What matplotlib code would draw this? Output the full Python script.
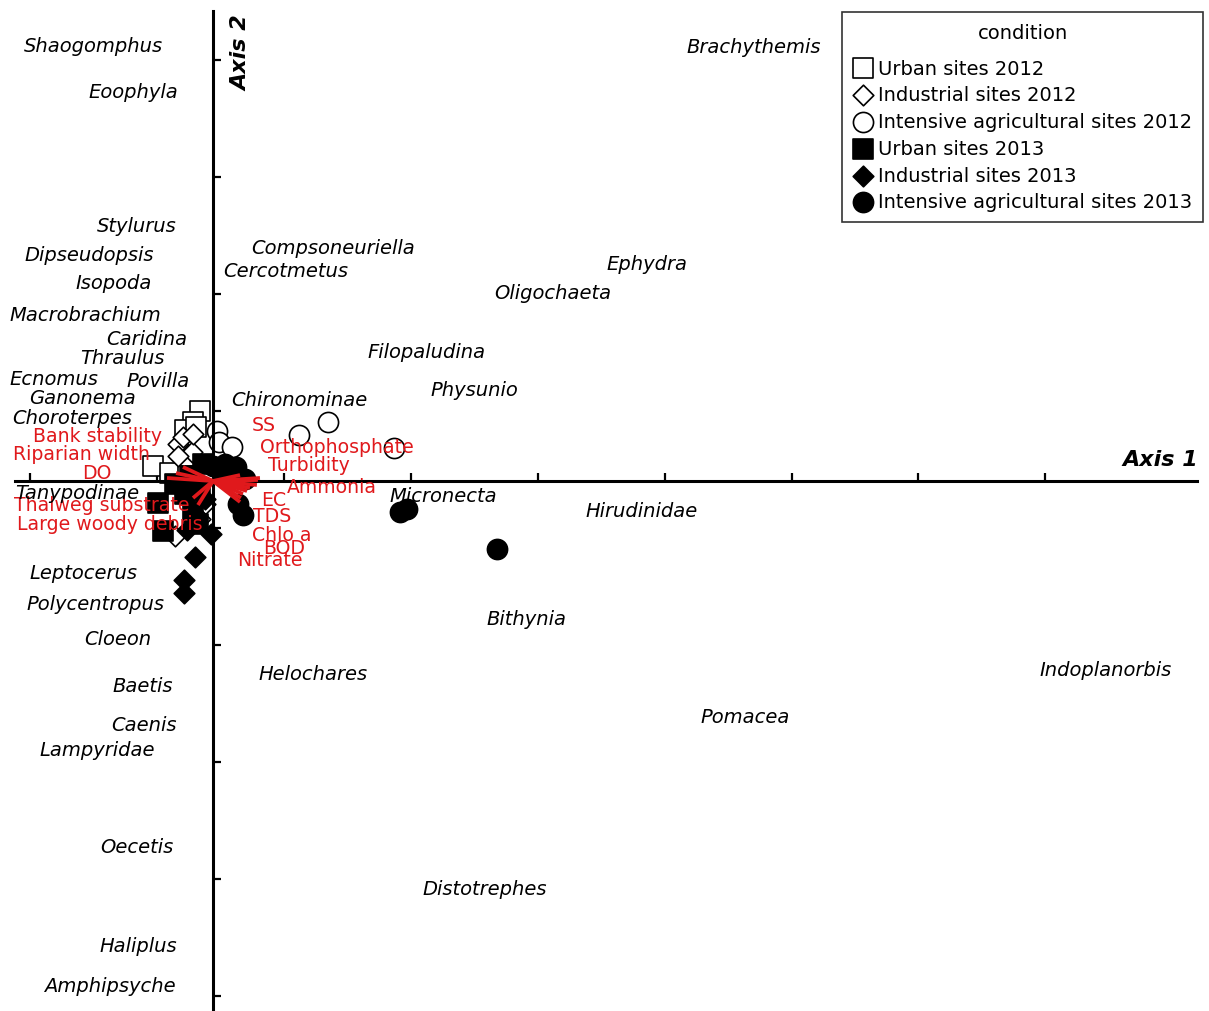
"""
CCA biplot: site scores by condition/year, taxa scores and environmental vectors
"""
import matplotlib
matplotlib.use("Agg")
import matplotlib.pyplot as plt

plt.rcParams['font.family'] = ['DejaVu Sans']

# ---- taxa scores ----
taxa = ["Shaogomphus", "Eoophyla", "Brachythemis", "Stylurus", "Dipseudopsis",
        "Isopoda", "Compsoneuriella", "Cercotmetus", "Ephydra", "Oligochaeta",
        "Macrobrachium", "Caridina", "Thraulus", "Filopaludina", "Ecnomus",
        "Povilla", "Physunio", "Ganonema", "Chironominae", "Choroterpes",
        "Tanypodinae", "Micronecta", "Hirudinidae", "Leptocerus", "Polycentropus",
        "Bithynia", "Cloeon", "Helochares", "Indoplanorbis", "Baetis",
        "Pomacea", "Caenis", "Lampyridae", "Oecetis", "Distotrephes",
        "Haliplus", "Amphipsyche"]
taxa_x = [-0.945, -0.630, 4.260, -0.598, -0.976,
          -0.780, 0.945, 0.575, 3.417, 2.677,
          -1.008, -0.520, -0.717, 1.685, -1.252,
          -0.433, 2.055, -1.031, 0.677, -1.110,
          -1.071, 1.811, 3.378, -1.016, -0.929,
          2.465, -0.748, 0.787, 7.031, -0.551,
          4.189, -0.543, -0.913, -0.598, 2.142,
          -0.591, -0.811]
taxa_y = [3.726, 3.333, 3.718, 2.188, 1.932,
          1.701, 2.000, 1.803, 1.855, 1.615,
          1.427, 1.222, 1.060, 1.103, 0.880,
          0.863, 0.786, 0.718, 0.701, 0.547,
          -0.094, -0.120, -0.256, -0.778, -1.043,
          -1.171, -1.350, -1.641, -1.615, -1.744,
          -2.009, -2.085, -2.291, -3.120, -3.487,
          -3.974, -4.308]

# ---- environmental vectors (arrow tip) and label positions ----
env = ["SS", "Orthophosphate", "Turbidity", "Ammonia", "EC", "TDS", "Chlo a",
       "BOD", "Nitrate", "Bank stability", "Riparian width", "DO",
       "Thalweg substrate", "Large woody debris"]
env_x = [0.213, 0.370, 0.354, 0.346, 0.291, 0.268, 0.236,
         0.220, 0.213, -0.236, -0.291, -0.362, -0.157, -0.118]
env_y = [0.051, 0.026, 0.009, -0.034, -0.060, -0.085, -0.111,
         -0.145, -0.179, 0.120, 0.068, 0.026, -0.145, -0.205]
env_lab_x = [0.402, 0.976, 0.756, 0.937, 0.480, 0.465, 0.543,
             0.559, 0.449, -0.913, -1.039, -0.913, -0.874, -0.811]
env_lab_y = [0.479, 0.291, 0.137, -0.051, -0.154, -0.299, -0.453,
             -0.564, -0.675, 0.393, 0.239, 0.077, -0.205, -0.359]

# ---- site scores ----
urban12_x = [-0.102, -0.157, -0.220, -0.134, -0.472, -0.339, -0.197]
urban12_y = [0.598, 0.504, 0.436, 0.462, 0.128, 0.068, 0.043]
indus12_x = [-0.276, -0.236, -0.165, -0.276, -0.157, -0.299, -0.063, -0.102]
indus12_y = [0.316, 0.376, 0.248, 0.214, 0.402, -0.470, -0.197, -0.325]
agri12_x = [0.677, 0.906, 1.425, 0.031, 0.047, 0.150]
agri12_y = [0.393, 0.504, 0.282, 0.427, 0.333, 0.291]
urban13_x = [-0.433, -0.394, -0.220, -0.157, -0.079, -0.181, -0.102, -0.299, -0.118]
urban13_y = [-0.188, -0.427, -0.111, -0.265, 0.145, 0.043, -0.068, -0.026, -0.368]
indus13_x = [-0.016, -0.142, -0.228, -0.228, -0.205, -0.063]
indus13_y = [-0.453, -0.650, -0.846, -0.957, -0.419, -0.154]
agri13_x = [1.472, 1.528, 2.236, 0.197, 0.236, 0.000, 0.094, 0.181, 0.071, 0.252]
agri13_y = [-0.265, -0.239, -0.581, -0.197, -0.291, 0.128, 0.145, 0.120, 0.077, 0.017]

x_ticks = [-1.44, -0.44, 0.56, 1.56, 2.56, 3.56, 4.56, 5.55, 6.55]
y_ticks = [3.6, 2.6, 1.6, 0.6, -0.4, -1.4, -2.4, -3.4, -4.4]

RED = '#e0191c'

fig = plt.figure(figsize=(12.09, 10.12), dpi=100)
ax = fig.add_axes([0, 0, 1, 1])
ax.set_xlim(-1.677, 7.843)
ax.set_ylim(-4.530, 4.120)

# axes through the origin
for side in ['top', 'right']:
    ax.spines[side].set_visible(False)
ax.spines['left'].set_position(('data', 0))
ax.spines['bottom'].set_position(('data', 0))
ax.spines['left'].set_bounds(-4.513, 4.017)
ax.spines['bottom'].set_bounds(-1.559, 7.748)
for side in ['left', 'bottom']:
    ax.spines[side].set_linewidth(2.2)
    ax.spines[side].set_zorder(4)
ax.set_xticks(x_ticks)
ax.set_yticks(y_ticks)
ax.tick_params(direction='in', length=6, width=1.6, labelbottom=False, labelleft=False)

# sites
ms = dict(edgecolors='black', linewidths=1.2, zorder=3)
ax.scatter(urban12_x, urban12_y, marker='s', s=200, facecolors='white', label='Urban sites 2012', **ms)
ax.scatter(indus12_x, indus12_y, marker='D', s=110, facecolors='white', label='Industrial sites 2012', **ms)
ax.scatter(agri12_x, agri12_y, marker='o', s=210, facecolors='white', label='Intensive agricultural sites 2012', **ms)
ax.scatter(urban13_x, urban13_y, marker='s', s=200, facecolors='black', label='Urban sites 2013', **ms)
ax.scatter(indus13_x, indus13_y, marker='D', s=110, facecolors='black', label='Industrial sites 2013', **ms)
ax.scatter(agri13_x, agri13_y, marker='o', s=210, facecolors='black', label='Intensive agricultural sites 2013', **ms)

# environmental vectors
for x, y in zip(env_x, env_y):
    ax.plot([0, x], [0, y], color=RED, lw=2.7, solid_capstyle='butt', zorder=5)
for lab, x, y in zip(env, env_lab_x, env_lab_y):
    ax.text(x, y, lab, color=RED, fontsize=13.6, ha='center', va='center', zorder=6)

# taxa
for lab, x, y in zip(taxa, taxa_x, taxa_y):
    ax.text(x, y, lab, fontsize=14, style='italic', ha='center', va='center', zorder=6)

ax.text(7.756, 0.19, 'Axis 1', fontsize=16, fontweight='bold', style='italic',
        ha='right', va='center')
ax.text(0.228, 3.667, 'Axis 2', fontsize=16, fontweight='bold', style='italic',
        rotation=90, ha='center', va='center')

leg = ax.legend(title='condition', loc='upper right', bbox_to_anchor=(0.995, 0.987),
                bbox_transform=fig.transFigure, borderaxespad=0, fontsize=14,
                title_fontsize=14, frameon=True, fancybox=False, edgecolor='black',
                handletextpad=0.3, handlelength=1.0, labelspacing=0.40,
                borderpad=0.55, markerscale=1.0)
leg.get_frame().set_linewidth(1.2)
# a little more room under the legend title
leg._legend_box.sep = 12

fig.savefig('out.png', dpi=100)
